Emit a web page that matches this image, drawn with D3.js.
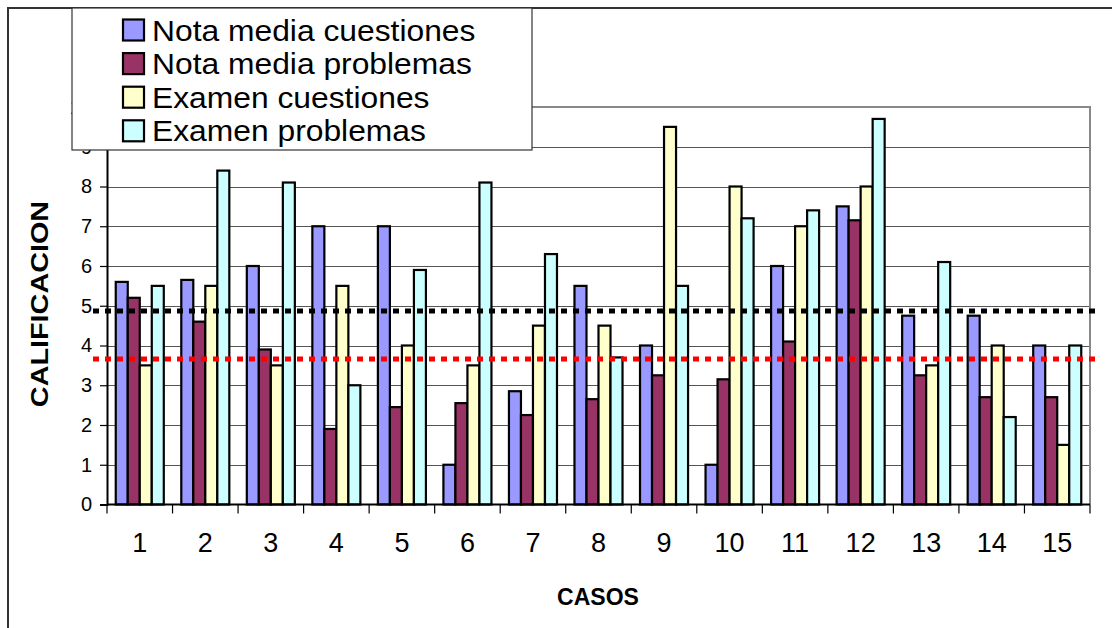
<!DOCTYPE html>
<html>
<head>
<meta charset="utf-8">
<script src="https://cdn.jsdelivr.net/npm/d3@7"></script>
<style>
  html, body { margin: 0; padding: 0; background: #fff; }
  svg { display: block; font-family: "Liberation Sans", Arial, sans-serif; }
</style>
</head>
<body>
<svg id="chart" width="1112" height="628"></svg>
<script>
const categories = ["1","2","3","4","5","6","7","8","9","10","11","12","13","14","15"];
const seriesNames = ["Nota media cuestiones","Nota media problemas","Examen cuestiones","Examen problemas"];
const seriesColors = ["#9999FF","#993366","#FFFFCC","#CCFFFF"];
const notaMediaCuestiones = [5.6, 5.65, 6.0, 7.0, 7.0, 1.0, 2.85, 5.5, 4.0, 1.0, 6.0, 7.5, 4.75, 4.75, 4.0];
const notaMediaProblemas  = [5.2, 4.6, 3.9, 1.9, 2.45, 2.55, 2.25, 2.65, 3.25, 3.15, 4.1, 7.15, 3.25, 2.7, 2.7];
const examenCuestiones    = [3.5, 5.5, 3.5, 5.5, 4.0, 3.5, 4.5, 4.5, 9.5, 8.0, 7.0, 8.0, 3.5, 4.0, 1.5];
const examenProblemas     = [5.5, 8.4, 8.1, 3.0, 5.9, 8.1, 6.3, 3.7, 5.5, 7.2, 7.4, 9.7, 6.1, 2.2, 4.0];
const seriesValues = [notaMediaCuestiones, notaMediaProblemas, examenCuestiones, examenProblemas];
const yTicks = [0,1,2,3,4,5,6,7,8,9,10];
const refLineValues = [4.87, 3.66];
const refLineColors = ["#000000", "#FF0000"];
const yTitle = "CALIFICACION";
const xTitle = "CASOS";

const svg = d3.select("#chart");

// outer chart frame
svg.append("rect").attr("x", 8).attr("y", 8).attr("width", 1200).attr("height", 700)
  .attr("fill", "#fff").attr("stroke", "#333").attr("stroke-width", 2);

const plot = { left: 107, right: 1090, top: 107, bottom: 504.5 };
const x = d3.scaleBand().domain(categories).range([plot.left, plot.right]).padding(0);
const groupW = x.bandwidth() * 0.733;
const xs = d3.scaleBand().domain(seriesNames).range([0, groupW]).padding(0);
const y = d3.scaleLinear().domain([0, 10]).range([plot.bottom, plot.top]);

// plot area
svg.append("rect").attr("x", plot.left).attr("y", plot.top)
  .attr("width", plot.right - plot.left).attr("height", plot.bottom - plot.top)
  .attr("fill", "#fff").attr("stroke", "none");

// gridlines
svg.append("g").selectAll("line").data(yTicks.filter(t => t > 0 && t < 10)).join("line")
  .attr("x1", plot.left).attr("x2", plot.right)
  .attr("y1", d => Math.round(y(d)) + 0.5).attr("y2", d => Math.round(y(d)) + 0.5)
  .attr("stroke", "#555").attr("stroke-width", 1.2);

// plot area border top/right (gray)
svg.append("path")
  .attr("d", `M${plot.left},${plot.top}H${plot.right}V${plot.bottom}`)
  .attr("fill", "none").attr("stroke", "#888").attr("stroke-width", 2);

// bars
const groups = svg.append("g").selectAll("g").data(categories).join("g")
  .attr("transform", c => `translate(${x(c) + (x.bandwidth() - groupW) / 2},0)`);
groups.selectAll("rect").data((c, i) => seriesNames.map((s, k) => ({ s, k, v: seriesValues[k][i] }))).join("rect")
  .attr("x", d => xs(d.s))
  .attr("width", xs.bandwidth())
  .attr("y", d => y(d.v))
  .attr("height", d => y(0) - y(d.v))
  .attr("fill", d => seriesColors[d.k])
  .attr("stroke", "#000").attr("stroke-width", 2.2);

// y axis
const yAxis = svg.append("g").attr("transform", `translate(${plot.left},0)`)
  .call(d3.axisLeft(y).tickValues(yTicks).tickSize(7).tickPadding(8).tickFormat(d3.format("d")));
yAxis.select(".domain").attr("stroke", "#000").attr("stroke-width", 2);
yAxis.selectAll(".tick line").attr("stroke", "#000").attr("stroke-width", 1.2);
yAxis.selectAll(".tick text").attr("font-size", 20).attr("fill", "#000")
  .attr("font-family", "'Liberation Sans', Arial, sans-serif");

// x axis
const xAxis = svg.append("g").attr("transform", `translate(0,${plot.bottom})`)
  .call(d3.axisBottom(x).tickSize(0).tickPadding(28));
xAxis.select(".domain").remove();
svg.append("line").attr("x1", plot.left).attr("x2", plot.right)
  .attr("y1", plot.bottom).attr("y2", plot.bottom).attr("stroke", "#000").attr("stroke-width", 2);
const bounds = categories.map(c => x(c)).concat([plot.right]);
svg.append("g").selectAll("line").data(bounds).join("line")
  .attr("x1", d => d).attr("x2", d => d)
  .attr("y1", plot.bottom).attr("y2", plot.bottom + 9)
  .attr("stroke", "#000").attr("stroke-width", 1.2);
xAxis.selectAll(".tick text").attr("font-size", 27).attr("fill", "#000")
  .attr("font-family", "'Liberation Sans', Arial, sans-serif");

// reference lines
svg.append("g").selectAll("line").data(refLineValues).join("line")
  .attr("x1", plot.left - 14).attr("x2", plot.right + 8)
  .attr("y1", d => y(d)).attr("y2", d => y(d))
  .attr("stroke", (d, i) => refLineColors[i]).attr("stroke-width", 5)
  .attr("stroke-dasharray", "6 6");

// axis titles
svg.append("text").attr("x", 598).attr("y", 605).attr("text-anchor", "middle")
  .attr("font-size", 23).attr("font-weight", "bold").text(xTitle);
svg.append("text").attr("transform", "translate(48,304) rotate(-90) scale(1.2,1)").attr("text-anchor", "middle")
  .attr("font-size", 24).attr("font-weight", "bold").text(yTitle);

// legend
const lg = svg.append("g");
lg.append("rect").attr("x", 72).attr("y", 8).attr("width", 460).attr("height", 142)
  .attr("fill", "#fff").attr("stroke", "#333").attr("stroke-width", 1.2);
const rows = lg.selectAll("g.row").data(seriesNames).join("g").attr("class", "row")
  .attr("transform", (d, i) => `translate(0,${30 + i * 33.6})`);
rows.append("rect").attr("x", 123).attr("y", -10.5).attr("width", 21).attr("height", 21)
  .attr("fill", (d, i) => seriesColors[i]).attr("stroke", "#000").attr("stroke-width", 2.2);
rows.append("text").attr("transform", "translate(152,10.5) scale(1.06,1)")
  .attr("font-size", 30).attr("fill", "#000").text(d => d);
</script>
</body>
</html>
